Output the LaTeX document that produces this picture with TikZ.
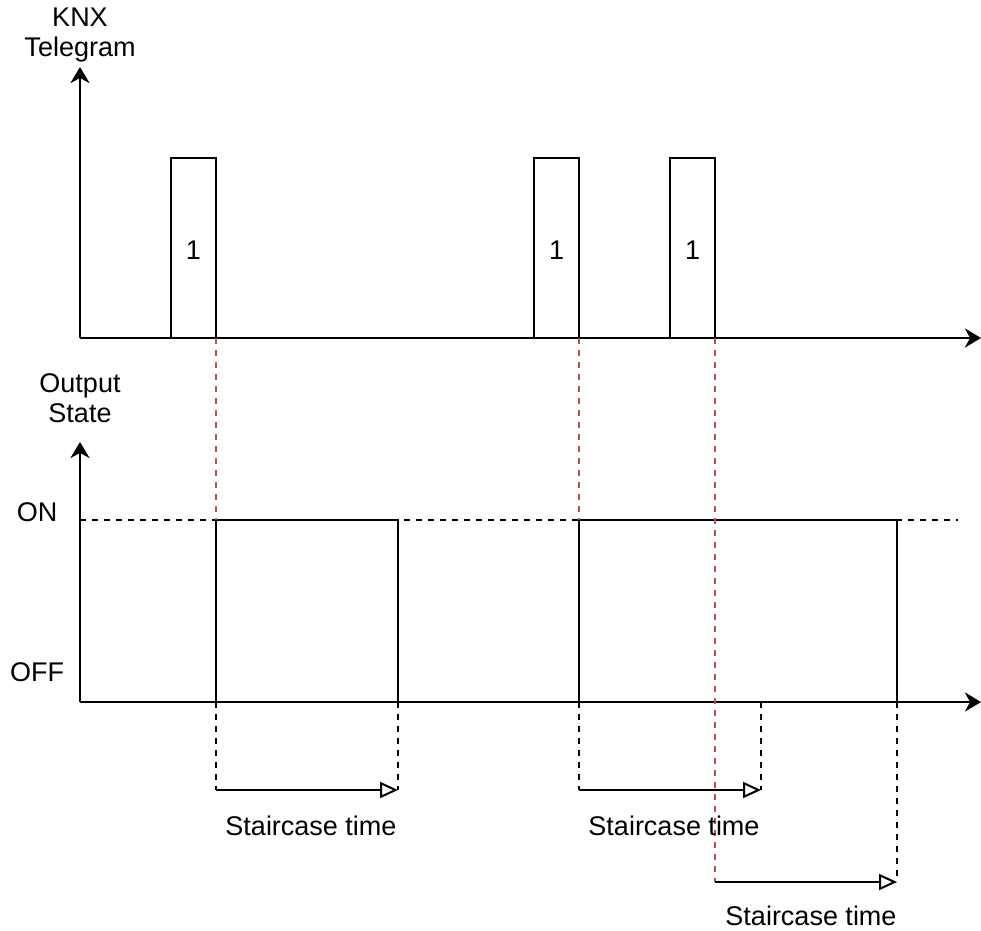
\documentclass[tikz,border=0pt]{standalone}
\usepackage{fontspec}
\setmainfont{Liberation Sans}
\usetikzlibrary{arrows.meta}
\definecolor{stairred}{RGB}{184,84,80}

\begin{document}
\begin{tikzpicture}[x=1pt,y=-1pt,
    axis/.style={line width=2pt,-{Stealth[length=16pt,width=19pt,inset=5pt]}},
    signal/.style={line width=2pt},
    guide/.style={line width=1.8pt,dash pattern=on 6pt off 6pt},
    marker/.style={stairred,line width=1.8pt,dash pattern=on 6pt off 6pt},
    span/.style={line width=2pt,-{Triangle[open,length=18pt,width=16pt]}},
    lbl/.style={font=\fontsize{27}{30}\selectfont,align=center,inner sep=0pt}]
    \useasboundingbox (0,0) rectangle (981,930);

    % Axes of the telegram diagram
    \coordinate (tO) at (80,338);
    \coordinate (tY) at (80,67);
    \coordinate (tX) at (981,338);
    \draw[axis] (tO) -- (tY);
    \draw[axis] (tO) -- (tX);
    \node[lbl] (knx) at (80,35) {KNX\\Telegram};

    % Axes of the output diagram
    \coordinate (sO) at (80,702);
    \coordinate (sY) at (80,442);
    \coordinate (sX) at (981,702);
    \draw[axis] (sO) -- (sY);
    \draw[axis] (sO) -- (sX);
    \node[lbl] (outstate) at (80,398) {Output\\State};
    \node[lbl] (on) at (37,512) {ON};
    \node[lbl] (off) at (37,672) {OFF};
    \draw[guide] (80,520) -- (958,520);

    % Telegram pulses
    \foreach \a/\b/\n in {171/216/1,534/579/2,670/715/3} {
        \draw[signal] (\a,338) -- (\a,158) -- (\b,158) -- (\b,338);
        \node[lbl] (bit\n) at ({(\a+\b)/2},250) {1};
        \coordinate (fall\n) at (\b,338);
    }

    % Output state
    \draw[signal] (216,702) -- (216,520) -- (398,520) -- (398,702);
    \draw[signal] (579,702) -- (579,520) -- (897,520) -- (897,702);

    % Red markers from each telegram
    \coordinate (hit1) at (216,520);
    \coordinate (hit2) at (579,520);
    \coordinate (hit3) at (715,882);
    \foreach \n in {1,2,3} {
        \draw[marker] (fall\n) -- (hit\n);
    }

    % Staircase times
    \foreach \x/\y in {216/790,398/790,579/790,761/790,897/882} {
        \draw[guide] (\x,702) -- (\x,\y);
    }
    \coordinate (s1a) at (216,790);
    \coordinate (s1b) at (398,790);
    \coordinate (s2a) at (579,790);
    \coordinate (s2b) at (761,790);
    \coordinate (s3b) at (897,882);
    \draw[span] (s1a) -- (s1b);
    \draw[span] (s2a) -- (s2b);
    \draw[span] (hit3) -- (s3b);
    \node[lbl] (st1) at (311,826) {Staircase time};
    \node[lbl] (st2) at (674,826) {Staircase time};
    \node[lbl] (st3) at (811,916) {Staircase time};
\end{tikzpicture}
\end{document}
